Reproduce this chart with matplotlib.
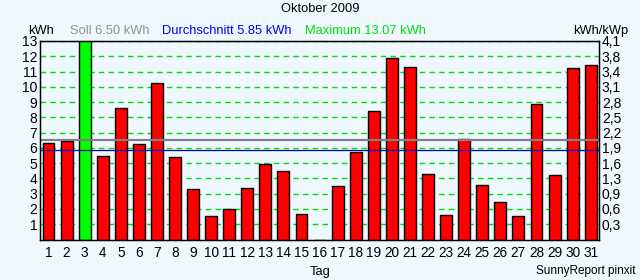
import matplotlib
matplotlib.use('Agg')
import matplotlib.pyplot as plt

# daily yield, Oktober 2009 (kWh)
days = list(range(1, 32))
kwh = [6.32, 6.45, 13.07, 5.48, 8.61, 6.25, 10.26, 5.40, 3.30, 1.52,
       1.98, 3.36, 4.94, 4.48, 1.65, 0.0, 3.49, 5.72, 8.42, 11.90,
       11.31, 4.28, 1.59, 6.58, 3.56, 2.44, 1.52, 8.88, 4.22, 11.24, 11.44]
soll = 6.50
schnitt = 5.85
maximum = 13.07

left_ticks = list(range(1, 14))
right_labels = ['0,3', '0,6', '0,9', '1,3', '1,6', '1,9', '2,2',
                '2,5', '2,8', '3,1', '3,4', '3,8', '4,1']

bg = '#F0F8FF'
plt.rcParams['font.family'] = ['Liberation Sans', 'DejaVu Sans']
fs = 9.3

fig = plt.figure(figsize=(6.4, 2.8), dpi=100, facecolor=bg)
ax = fig.add_axes([40/640, 40.5/280, 559/640, 198.5/280])
ax.set_facecolor(bg)

colors = ['#00FF00' if v == maximum else '#FF0000' for v in kwh]
ax.bar(days, kwh, width=0.66, color=colors, edgecolor='black', linewidth=1.0, zorder=3)

for y in left_ticks:
    ax.axhline(y, color='#00E000', linestyle=(0, (4, 3)), linewidth=1.0, zorder=1)

ax.axhline(soll, color='#808080', linewidth=1.6, zorder=4)
ax.axhline(schnitt, color='#0000C0', linewidth=0.9, zorder=4)

ax.set_xlim(0.53, 31.46)
ax.set_ylim(0, 13)
ax.set_xticks(days)
ax.set_xticklabels([str(d) for d in days], fontsize=9.8)
ax.set_yticks(left_ticks)
ax.set_yticklabels([str(t) for t in left_ticks], fontsize=10)
ax.tick_params(axis='x', length=0, pad=5)
ax.tick_params(axis='y', length=0, pad=2)
for s in ax.spines.values():
    s.set_color('black')
    s.set_linewidth(1.0)
    s.set_zorder(5)

ax2 = ax.twinx()
ax2.set_ylim(0, 13)
ax2.set_yticks(left_ticks)
ax2.set_yticklabels(right_labels, fontsize=10)
ax2.tick_params(axis='y', length=0, pad=2)

hy = 1 - 31/280
fig.text(320/640, 1 - 9/280, 'Oktober 2009', ha='center', va='center', fontsize=fs)
fig.text(28/640, hy, 'kWh', ha='left', va='center', fontsize=fs)
fig.text(70/640, hy, 'Soll %.2f kWh' % soll, ha='left', va='center', fontsize=fs, color='#909090')
fig.text(162/640, hy, 'Durchschnitt %.2f kWh' % schnitt, ha='left', va='center', fontsize=fs, color='#0000FF')
fig.text(305/640, hy, 'Maximum %.2f kWh' % maximum, ha='left', va='center', fontsize=fs, color='#00E000')
fig.text(628/640, hy, 'kWh/kWp', ha='right', va='center', fontsize=fs)
fig.text(320/640, 1 - 272/280, 'Tag', ha='center', va='center', fontsize=fs)
fig.text(636/640, 1 - 271/280, 'SunnyReport pinxit', ha='right', va='center', fontsize=8.5)

fig.savefig('out.png', dpi=100, facecolor=bg)
